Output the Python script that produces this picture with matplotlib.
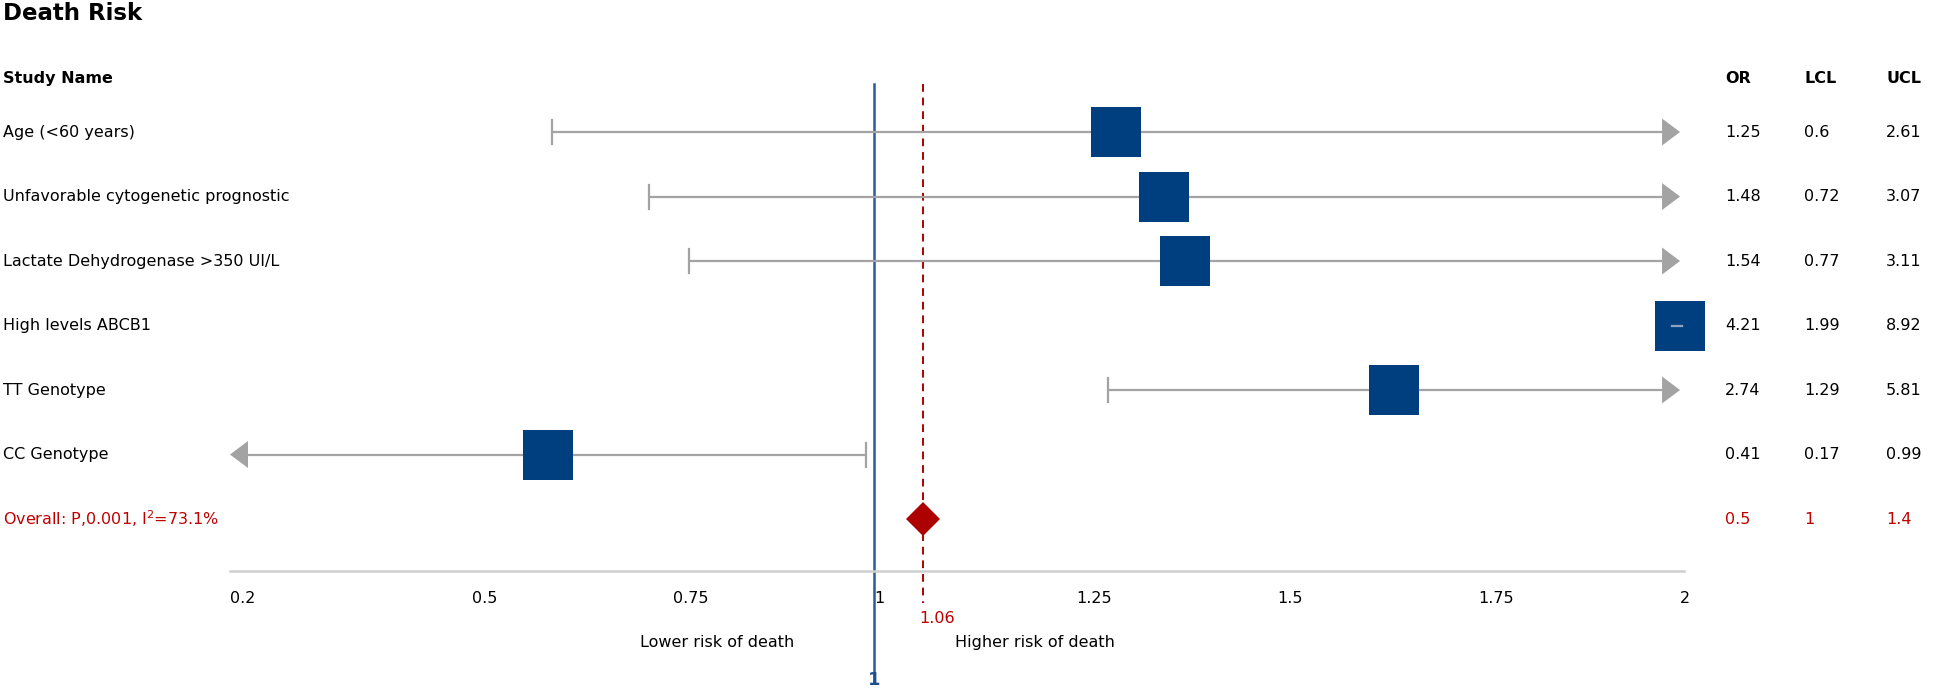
import numpy as np
import matplotlib
matplotlib.use("Agg")
import matplotlib.pyplot as plt
from matplotlib.transforms import blended_transform_factory

plt.rcParams['font.family'] = ['DejaVu Sans']

studies = ["Age (<60 years)", "Unfavorable cytogenetic prognostic",
           "Lactate Dehydrogenase >350 UI/L", "High levels ABCB1",
           "TT Genotype", "CC Genotype"]
odds = [1.25, 1.48, 1.54, 4.21, 2.74, 0.41]
lcl = [0.6, 0.72, 0.77, 1.99, 1.29, 0.17]
ucl = [2.61, 3.07, 3.11, 8.92, 5.81, 0.99]
# square positions as drawn in the picture (centre of the clipped interval)
box_pos = [1.30, 1.36, 1.385, 2.0, 1.645, 0.595]

overall_label = "Overall: P,0.001, I$^2$=73.1%"
overall_vals = ["0.5", "1", "1.4"]
overall_est = 1.06

ticks = [0.2, 0.5, 0.75, 1, 1.25, 1.5, 1.75, 2]
xmin, xmax = 0.2, 2.0

BLUE = '#003f7f'
GRAY = '#a3a3a3'
RED = '#c00000'
DRED = '#ad0000'
LBLUE = '#2b5c97'

fig = plt.figure(figsize=(19.6, 6.9), dpi=100)
ax = fig.add_axes([0, 0, 1, 1])
ax.set_xlim(-0.0855, 2.3475)
ax.set_ylim(8.651, -2.047)
ax.axis('off')

px_x = 1 / 805.6   # one pixel in x data units
px_y = 1 / 64.5    # one pixel in row units
arr_len = 18 * px_x
arr_h = 27 * px_y
cap_h = 24 * px_y
cols = [1725, 1804, 1886]

trans = blended_transform_factory(ax.transAxes, ax.transData)

for i, name in enumerate(studies):
    lo, hi = lcl[i], ucl[i]
    left = max(lo, xmin)
    right = min(hi, xmax)
    x0 = left + arr_len if lo < xmin else left
    x1 = right - arr_len if hi > xmax else right
    if x1 > x0:
        ax.plot([x0, x1], [i, i], color=GRAY, lw=1.6, zorder=2, solid_capstyle='butt')
    if lo >= xmin and hi > xmax and lo < xmax - arr_len:
        ax.plot([lo, lo], [i - cap_h / 2, i + cap_h / 2], color=GRAY, lw=1.6, zorder=2)
    if hi <= xmax:
        ax.plot([hi, hi], [i - cap_h / 2, i + cap_h / 2], color=GRAY, lw=1.6, zorder=2)
    if hi > xmax and lo < xmax - arr_len:
        ax.fill([xmax, xmax - arr_len, xmax - arr_len], [i, i - arr_h / 2, i + arr_h / 2],
                color=GRAY, lw=0, zorder=2)
    if lo < xmin:
        ax.fill([xmin, xmin + arr_len, xmin + arr_len], [i, i - arr_h / 2, i + arr_h / 2],
                color=GRAY, lw=0, zorder=2)
    if lo >= xmax - arr_len:
        ax.plot([lo, lo + 10 * px_x], [i, i], color='#8da3bf', lw=1.6, zorder=4)

    ax.plot(box_pos[i], i, marker='s', ms=35.3, color=BLUE, mec=BLUE, mew=0, zorder=3)

    ax.text(3 / 1960, i, name, transform=trans, fontsize=11.5, va='center', ha='left')
    for xf, v in zip(cols, [odds[i], lcl[i], ucl[i]]):
        ax.text(xf / 1960, i, f"{v:g}", transform=trans, fontsize=11.5, va='center', ha='left')

# overall row
n = len(studies)
ax.plot(overall_est, n, marker='D', ms=17.3, color=DRED, mew=0, zorder=4)
ax.text(3 / 1960, n, overall_label, transform=trans, fontsize=11.5, va='center',
        ha='left', color=RED)
for xf, v in zip(cols, overall_vals):
    ax.text(xf / 1960, n, v, transform=trans, fontsize=11.5, va='center', ha='left', color=RED)

# headers
ax.text(3 / 1960, -0.837, "Study Name", transform=trans, fontsize=11.5, fontweight='bold',
        va='center', ha='left')
for xf, h in zip(cols, ["OR", "LCL", "UCL"]):
    ax.text(xf / 1960, -0.837, h, transform=trans, fontsize=11.5, fontweight='bold',
            va='center', ha='left')
fig.text(3 / 1960, 1 - 14 / 690, "Death Risk", fontsize=16.5, fontweight='bold',
         va='center', ha='left')

# reference lines
ax.plot([1, 1], [-0.744, 8.357], color=LBLUE, lw=1.8, zorder=1)
ax.plot([overall_est, overall_est], [-0.744, 7.302], color=DRED, lw=1.4,
        linestyle=(0, (4, 3)), zorder=1)
ax.text(overall_est - 4 * px_x, 7.55, f"{overall_est:g}", fontsize=11.5, color=RED,
        va='center', ha='left')
ax.text(1, 8.50, "1", fontsize=13, fontweight='bold', color='#1f4e8c', va='center', ha='center')

# x axis
ax.plot([xmin, xmax + 4 * px_x], [6.806, 6.806], color='#cfcfcf', lw=1.8, zorder=1)
for t in ticks:
    ax.text(t, 7.225, f"{t:g}", fontsize=11.5, va='center', ha='left')
ax.text(0.2 + (717 - 230) * px_x, 7.92, "Lower risk of death", fontsize=11.5,
        va='center', ha='center')
ax.text(0.2 + (1035 - 230) * px_x, 7.92, "Higher risk of death", fontsize=11.5,
        va='center', ha='center')

fig.savefig("out.png", dpi=100)
